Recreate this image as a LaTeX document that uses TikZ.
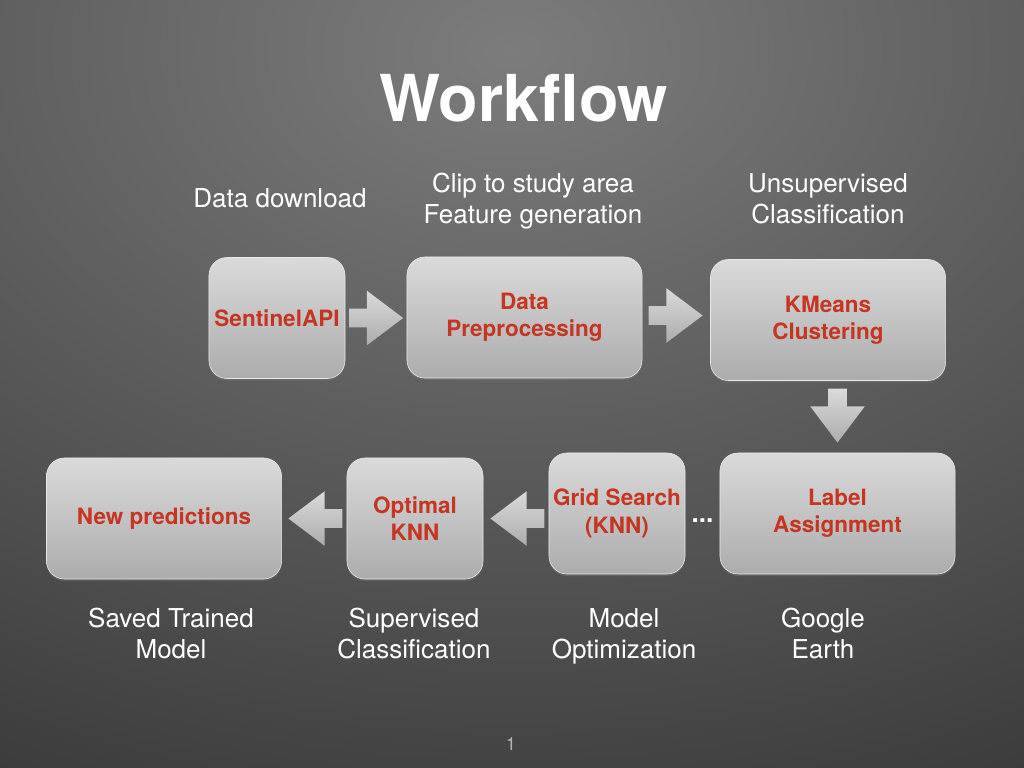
\documentclass[tikz,border=0pt]{standalone}
\usepackage{fontspec}
\setmainfont{TeX Gyre Heros}
\usetikzlibrary{calc}
\usetikzlibrary{shapes.arrows}
\usetikzlibrary{shadows}
\definecolor{boxred}{RGB}{198,52,34}
\definecolor{bgin}{RGB}{124,124,124}
\definecolor{bgout}{RGB}{38,38,38}
\definecolor{boxtop}{RGB}{218,218,218}
\definecolor{boxbot}{RGB}{172,172,172}
\tikzset{
  stepbox/.style={rounded corners=0.45cm, top color=boxtop, bottom color=boxbot, draw=boxtop!60!white, line width=0.4pt, inner sep=2pt, minimum height=3.025cm, font=\fontsize{16}{19.5}\selectfont\bfseries, text=boxred, align=center, drop shadow={opacity=0.35, shadow xshift=0pt, shadow yshift=-0.05cm}},
  smallbox/.style={stepbox, minimum width=3.4cm},
  widebox/.style={stepbox, minimum width=5.875cm},
  blockarrow/.style={single arrow, anchor=tail, top color=boxtop, bottom color=boxbot, inner sep=0.225cm, single arrow head extend=0.45cm, single arrow tip angle=74, minimum height=1.35cm},
  caption/.style={text=white, align=center, font=\fontsize{18.5}{22}\selectfont, anchor=base}
}

\begin{document}
\begin{tikzpicture}[line cap=round,line join=round,x=0.025cm,y=-0.025cm]
\useasboundingbox (0,0) rectangle (1024,768);
\begin{scope}
\clip (0,0) rectangle (1024,768);
\shade[inner color=bgin, outer color=bgout] (512,50) ellipse (1550 and 1080);
\end{scope}

\node[text=white, font=\fontsize{46}{50}\selectfont\bfseries, anchor=base] (title) at (524,122) {Workflow};

\node[smallbox] (sentinel) at (277,318) {SentinelAPI};
\node[widebox] (prep) at (524.5,317.5) {Data\\Preprocessing};
\node[widebox] (kmeans) at (828,320) {KMeans\\Clustering};
\node[widebox] (label) at (837.5,513.5) {Label\\Assignment};
\node[smallbox] (grid) at (617,513.5) {Grid Search\\(KNN)};
\node[smallbox] (optknn) at (415,518.5) {Optimal\\KNN};
\node[widebox] (newpred) at (164,518.5) {New predictions};

\node[blockarrow] (a1) at ($(sentinel.east)+(3.5,0)$) {};
\node[blockarrow] (a2) at ($(prep.east)+(6,-2)$) {};
\node[blockarrow, shape border rotate=270] (a3) at ($(kmeans.south -| label.north)+(0,7.5)$) {};
\node[blockarrow, shape border rotate=180] (a4) at ($(grid.west |- optknn.west)+(-4,0)$) {};
\node[blockarrow, shape border rotate=180] (a5) at ($(optknn.west)+(-4,0)$) {};
\node[text=white, font=\fontsize{18.5}{22}\selectfont\bfseries, anchor=base] (dots) at ($(grid.east)!0.5!(label.west) + (0,8.5)$) {...};

% base of a two-line caption is its second line
\node[caption] (cdl) at (280,207) {Data download};
\node[caption] (cclip) at (533,223) {Clip to study area\\Feature generation};
\node[caption] (cuns) at (828,223) {Unsupervised\\Classification};
\node[caption] (csaved) at (171,658) {Saved Trained\\Model};
\node[caption] (csup) at (414,658) {Supervised\\Classification};
\node[caption] (cmodel) at (624,658) {Model\\Optimization};
\node[caption] (cgoogle) at (823,658) {Google\\Earth};

\node[text=gray!60!white, font=\fontsize{13}{15}\selectfont, anchor=base] (pageno) at (511,750) {1};
\end{tikzpicture}
\end{document}
